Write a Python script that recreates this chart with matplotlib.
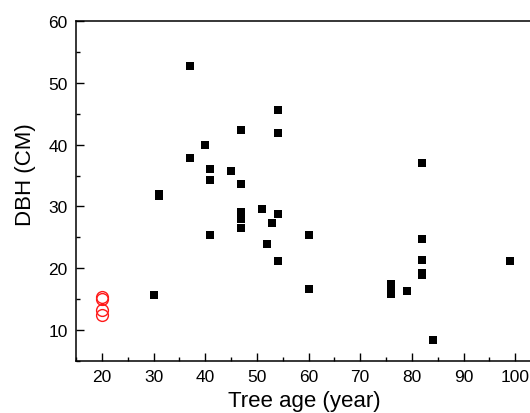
import matplotlib
matplotlib.use("Agg")
import matplotlib.pyplot as plt
from matplotlib.ticker import MultipleLocator

plt.rcParams['font.family'] = ['Liberation Sans', 'DejaVu Sans']

# Black squares: tree age (year) vs DBH (cm)
age_sq = [37, 54, 47, 54, 40, 37, 41, 45, 41, 47, 82, 31, 31,
          51, 47, 47, 54, 53, 47, 41, 60, 52, 54, 30, 60,
          76, 76, 76, 79, 82, 82, 82, 82, 84, 99]
dbh_sq = [52.7, 45.6, 42.3, 41.9, 40.0, 37.9, 36.1, 35.8, 34.2, 33.6, 37.1, 31.7, 32.0,
          29.6, 29.1, 27.9, 28.7, 27.3, 26.5, 25.4, 25.4, 23.9, 21.2, 15.6, 16.7,
          17.5, 16.6, 15.8, 16.4, 24.8, 21.4, 19.3, 18.9, 8.4, 21.2]

# Red open circles
age_ci = [20, 20, 20, 20]
dbh_ci = [15.4, 15.0, 13.2, 12.5]

x_ticks = [20, 30, 40, 50, 60, 70, 80, 90, 100]
y_ticks = [10, 20, 30, 40, 50, 60]

fig = plt.figure(figsize=(5.30, 4.14), dpi=100)
ax = fig.add_axes([76/530, 52/414, 465/530, 340/414])

ax.plot(age_sq, dbh_sq, linestyle='none', marker='s', markersize=6.2,
        color='black', markeredgewidth=0)
ax.plot(age_ci, dbh_ci, linestyle='none', marker='o', markersize=8.5,
        markerfacecolor='none', markeredgecolor='#ff1a1a', markeredgewidth=1.0)

ax.set_xlim(15, 105)
ax.set_ylim(5, 60)
ax.set_xticks(x_ticks)
ax.set_yticks(y_ticks)
ax.xaxis.set_minor_locator(MultipleLocator(5))
ax.yaxis.set_minor_locator(MultipleLocator(5))

ax.tick_params(which='both', direction='in', top=False, right=False, width=1.0)
ax.tick_params(which='major', length=6, labelsize=12.5, pad=6)
ax.tick_params(which='minor', length=3)

for s in ax.spines.values():
    s.set_linewidth(1.1)

ax.set_xlabel('Tree age (year)', fontsize=16)
ax.set_ylabel('DBH (CM)', fontsize=16)
ax.xaxis.set_label_coords(0.492, -0.084)
ax.yaxis.set_label_coords(-0.085, 0.55)

fig.savefig('out.png', dpi=100)
